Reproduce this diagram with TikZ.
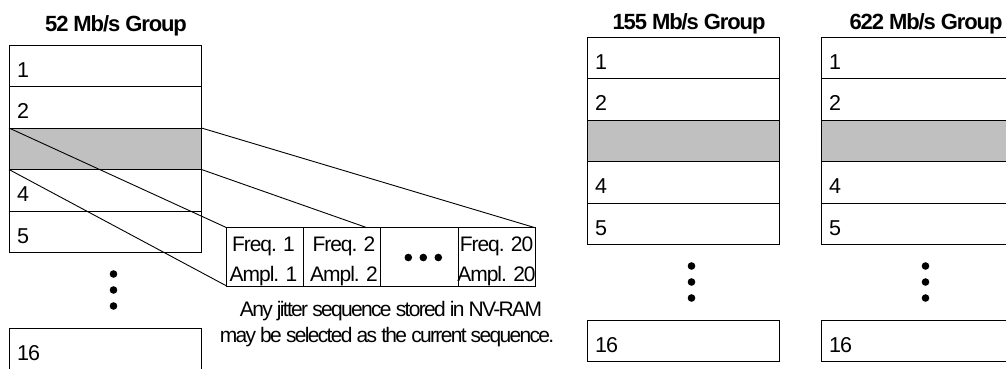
\documentclass[tikz,border=0pt]{standalone}
\usepackage{fontspec}
\setmainfont{Liberation Sans}
\newfontfamily\cellfont[LetterSpace=-5]{Liberation Sans}
\newfontfamily\notefont[LetterSpace=-8]{Liberation Sans}
\newfontfamily\headfont[LetterSpace=-5]{Liberation Sans}
\usetikzlibrary{calc}
\definecolor{bandgray}{HTML}{C0C0C0}

\tikzset{
  rowbox/.style={draw=black, line width=1pt, minimum width=192.5pt,
    minimum height=41.5pt, inner sep=0pt, outer sep=0pt, anchor=north west},
  rowlbl/.style={anchor=base west, inner sep=0pt,
    font=\cellfont\fontsize{21.5}{21.5}\selectfont},
  head/.style={anchor=base, inner sep=0pt,
    font=\headfont\bfseries\fontsize{22}{22}\selectfont},
  vdot/.style={circle, fill=black, inner sep=0pt, minimum size=7.6pt},
  cellbox/.style={draw=black, line width=1pt, minimum width=77.1pt,
    minimum height=58.3pt, inner sep=0pt, outer sep=0pt, anchor=north west},
  celltxt/.style={anchor=base, inner sep=0pt,
    font=\cellfont\fontsize{21}{21}\selectfont},
  note/.style={anchor=base, inner sep=0pt,
    font=\notefont\fontsize{21}{21}\selectfont},
  link/.style={draw=black, line width=0.9pt}
}

% one channel group: #1 name prefix, #2 left edge, #3 top edge
\newcommand\memgroup[3]{%
  \foreach \i in {1,2,4,5} {
    \node[rowbox] (#1-r\i) at (#2, #3+41.5*\i-41.5) {};
    \node[rowlbl] (#1-l\i) at (#2+8, #3+41.5*\i-9.5) {\i};
  }
  \node[rowbox, fill=bandgray] (#1-r3) at (#2, #3+83) {};
  \node[vdot] (#1-d1) at (#2+104.5, #3+229) {};
  \node[vdot] (#1-d2) at (#2+104.5, #3+245) {};
  \node[vdot] (#1-d3) at (#2+104.5, #3+261) {};
  \node[rowbox] (#1-r16) at (#2, #3+283) {};
  \node[rowlbl] (#1-l16) at (#2+8, #3+315) {16};
}

\begin{document}
\begin{tikzpicture}[x=1pt, y=-1pt]
  \clip (0,0) rectangle (1006,368);
  \fill[white] (0,0) rectangle (1006,368);

  % group titles
  \node[head] (t52)  at (116,31)    {52 Mb/s Group};
  \node[head] (t155) at (689,29.5)  {155 Mb/s Group};
  \node[head] (t622) at (926,29.5)  {622 Mb/s Group};

  % the three channel groups
  \memgroup{ga}{9}{45}
  \memgroup{gb}{587}{37}
  \memgroup{gc}{821}{37}

  % jitter sequence record
  \node[cellbox] (c1) at (226.7,227.7) {};
  \node[cellbox] (c2) at (303.8,227.7) {};
  \node[cellbox] (c3) at (380.9,227.7) {};
  \node[cellbox] (c4) at (458.0,227.7) {};

  \node[celltxt] (f1) at (263.5,251) {Freq. 1};
  \node[celltxt] (a1) at (263.5,281) {Ampl. 1};
  \node[celltxt] (f2) at (344,251) {Freq. 2};
  \node[celltxt] (a2) at (344,281) {Ampl. 2};
  \node[celltxt] (f20) at (496.5,251) {Freq. 20};
  \node[celltxt] (a20) at (496.5,281) {Ampl. 20};

  \node[vdot] (h1) at (408.3,257.5) {};
  \node[vdot] (h2) at (423.3,257.5) {};
  \node[vdot] (h3) at (438.3,257.5) {};

  % expansion lines from the selected slot
  \coordinate (seqtop) at ($(c2.north west)!0.82!(c2.north east)$);
  \draw[link] (ga-r3.north west) -- (c1.north west);
  \draw[link] (ga-r3.south west) -- (c1.south west);
  \draw[link] (ga-r3.north east) -- (c4.north east);
  \draw[link] (ga-r3.south east) -- (seqtop);

  % caption
  \node[note] (n1) at (391,316.7) {Any jitter sequence stored in NV-RAM};
  \node[note] (n2) at (387,342.7) {may be selected as the current sequence.};
\end{tikzpicture}
\end{document}
